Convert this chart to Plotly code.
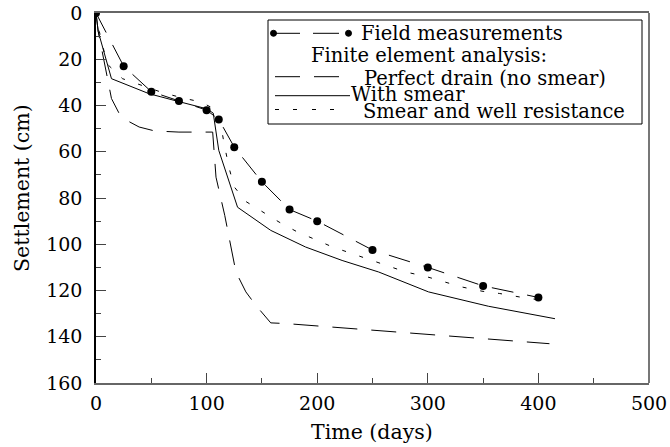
import plotly.graph_objects as go

# ---------------- data ----------------
field_days = [0, 25, 50, 75, 100, 111, 125, 150, 175, 200, 250, 300, 350, 400]
field_settle = [0, 23, 34, 38, 42, 46, 58, 73, 85, 90, 102.5, 110, 118, 123]

no_smear_days = [0, 2, 14, 21, 30, 39, 53, 75, 105.5, 108.5, 116.4, 123.4, 126.5,
                 135.5, 144.5, 158, 172, 410]
no_smear_settle = [0, 8, 37, 43.5, 47, 49.3, 51, 51.5, 51.5, 71, 87.5, 104.8, 112,
                   120.6, 126.4, 134, 134.3, 143]

with_smear_days = [0, 2, 14, 48, 74, 100, 106, 108.5, 111, 128, 138.5, 158, 189.5,
                   222.5, 255.6, 300.6, 354.7, 415]
with_smear_settle = [0, 8, 28.4, 34.9, 38.2, 41.4, 43.3, 52.2, 59.4, 84, 87.5, 94,
                     101.2, 107, 112, 120.6, 126.8, 132.2]

smear_well_days = [0, 3, 10, 24, 60, 78, 95, 105, 112, 116, 120.5, 125, 135.5, 150.5,
                   165.5, 181, 197, 213, 230, 247, 263, 280, 298, 314, 331, 349, 365,
                   383, 400]
smear_well_settle = [0, 8, 22, 28.4, 34.4, 36.7, 38.5, 41, 46, 57, 67.3, 75.2, 81.5,
                     86, 90.4, 94.4, 97.6, 101, 103.8, 106.6, 109.5, 112, 113.9, 116,
                     118.5, 120.3, 121.3, 122.8, 124]

legend_labels = ["Field measurements", "Finite element analysis:",
                 "Perfect drain (no smear)", "With smear",
                 "Smear and well resistance"]

x_ticks = [0, 100, 200, 300, 400, 500]
y_ticks = [0, 20, 40, 60, 80, 100, 120, 140, 160]

FONT = "DejaVu Serif"

# ---------------- figure ----------------
W, H = 670, 447
ML, MR, MT, MB = 96, 21, 13, 64
PW, PH = W - ML - MR, H - MT - MB


def px(xp):
    return (xp - ML) / PW


def py(yp):
    return (H - MB - yp) / PH


fig = go.Figure()

fig.add_trace(go.Scatter(x=no_smear_days, y=no_smear_settle, mode="lines",
                         name=legend_labels[2],
                         line=dict(color="black", width=1, dash="25px,14px")))
fig.add_trace(go.Scatter(x=with_smear_days, y=with_smear_settle, mode="lines",
                         name=legend_labels[3],
                         line=dict(color="black", width=1)))
fig.add_trace(go.Scatter(x=smear_well_days, y=smear_well_settle, mode="lines",
                         name=legend_labels[4],
                         line=dict(color="black", width=1, dash="4px,14px")))
fig.add_trace(go.Scatter(x=field_days, y=field_settle, mode="lines+markers",
                         name=legend_labels[0],
                         line=dict(color="black", width=1, dash="22px,14px"),
                         marker=dict(color="black", size=8)))

shapes = []
annotations = []

# right border of the frame
shapes.append(dict(type="line", xref="paper", yref="paper", x0=1, x1=1, y0=0, y1=1,
                   line=dict(color="#777777", width=2)))

# ---------------- manual legend ----------------
shapes.append(dict(type="rect", xref="paper", yref="paper",
                   x0=px(268), x1=px(642), y0=py(124), y1=py(20),
                   line=dict(color="black", width=1), fillcolor="white", layer="above"))

# row 1: field measurements sample  "•— —•"
ry = 33.3
for (a, b) in [(274, 300), (313, 339)]:
    shapes.append(dict(type="line", xref="paper", yref="paper",
                       x0=px(a), x1=px(b), y0=py(ry), y1=py(ry),
                       line=dict(color="black", width=1), layer="above"))
for cx in (273.5, 348.5):
    shapes.append(dict(type="circle", xref="paper", yref="paper",
                       x0=px(cx - 3), x1=px(cx + 3), y0=py(ry + 3), y1=py(ry - 3),
                       line=dict(color="black", width=1), fillcolor="black",
                       layer="above"))

# row 3: perfect drain sample
ry = 76.7
for (a, b) in [(275, 300), (314, 339)]:
    shapes.append(dict(type="line", xref="paper", yref="paper",
                       x0=px(a), x1=px(b), y0=py(ry), y1=py(ry),
                       line=dict(color="black", width=1), layer="above"))
# row 4: with smear sample
ry = 95.7
shapes.append(dict(type="line", xref="paper", yref="paper",
                   x0=px(275), x1=px(350), y0=py(ry), y1=py(ry),
                   line=dict(color="black", width=1), layer="above"))
# row 5: smear and well resistance sample
ry = 109.5
for a in (275, 293, 312, 330):
    shapes.append(dict(type="line", xref="paper", yref="paper",
                       x0=px(a), x1=px(a + 4), y0=py(ry), y1=py(ry),
                       line=dict(color="black", width=1), layer="above"))

text_pos = [(360, 33.5), (310, 55.5), (363, 78.0), (350, 94.5), (362, 111.5)]
for label, (tx, ty) in zip(legend_labels, text_pos):
    annotations.append(dict(text=label, xref="paper", yref="paper",
                            x=px(tx), y=py(ty), xanchor="left", yanchor="middle",
                            showarrow=False, borderpad=0,
                            font=dict(family=FONT, size=19.5, color="black")))

# axis titles
annotations.append(dict(text="Time (days)", xref="paper", yref="paper",
                        x=px(372), y=py(432), xanchor="center", yanchor="middle",
                        showarrow=False, font=dict(family=FONT, size=20.5, color="black")))
annotations.append(dict(text="Settlement (cm)", xref="paper", yref="paper",
                        x=px(22), y=py(188), xanchor="center", yanchor="middle",
                        textangle=-90, showarrow=False,
                        font=dict(family=FONT, size=20.5, color="black")))

fig.update_layout(
    width=W, height=H,
    margin=dict(l=ML, r=MR, t=MT, b=MB, autoexpand=False),
    paper_bgcolor="white", plot_bgcolor="white",
    showlegend=False,
    shapes=shapes, annotations=annotations,
    font=dict(family=FONT, color="black"),
)

fig.update_xaxes(range=[0, 500], tickvals=x_ticks, ticktext=[str(v) for v in x_ticks],
                 showgrid=False, zeroline=False, automargin=False,
                 showline=True, linecolor="#666666", linewidth=2, mirror=True,
                 ticks="inside", ticklen=10, tickcolor="#444444", tickwidth=1,
                 minor=dict(dtick=50, ticks="inside", ticklen=5, tickcolor="#444444"),
                 tickfont=dict(family=FONT, size=19, color="black"),
                 ticklabelstandoff=2)

fig.update_yaxes(range=[160, 0], tickvals=y_ticks, ticktext=[str(v) for v in y_ticks],
                 showgrid=False, zeroline=False, automargin=False,
                 showline=True, linecolor="black", linewidth=1.5,
                 ticks="inside", ticklen=10, tickcolor="#444444", tickwidth=1,
                 minor=dict(dtick=10, ticks="inside", ticklen=5, tickcolor="#444444"),
                 tickfont=dict(family=FONT, size=19, color="black"),
                 ticklabelstandoff=8)

fig.write_html("out.html",
               config={"displayModeBar": False},
               post_script="document.body.style.margin='0';"
                           "document.body.style.overflow='hidden';")
